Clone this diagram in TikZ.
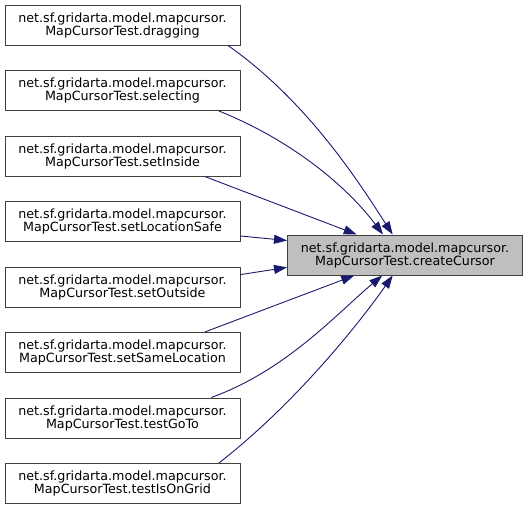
\documentclass[tikz,border=0pt]{standalone}
\usepackage{fontspec}
\setmainfont{DejaVu Sans}
\usetikzlibrary{arrows.meta}
\definecolor{boxline}{HTML}{404040}
\definecolor{callfill}{HTML}{BFBFBF}
\definecolor{edgeblue}{HTML}{191970}

\begin{document}
\begin{tikzpicture}[
    x=1pt, y=1pt,
    fn/.style={draw=boxline, fill=white, line width=1pt, minimum width=235pt,
               minimum height=40pt, inner sep=0pt, align=center,
               font=\fontsize{12.7}{13}\selectfont},
    target/.style={fn, fill=callfill},
    edge/.style={draw=edgeblue, line width=0.9pt,
                 -{Triangle[length=13pt, width=9pt]}},
  ]
  \useasboundingbox (0,0) rectangle (528,-509);

  % Callers
  \node[fn] (dragging) at (122.5, -25) {net.sf.gridarta.model.mapcursor.\\MapCursorTest.dragging};
  \node[fn] (selecting) at (122.5, -90.5) {net.sf.gridarta.model.mapcursor.\\MapCursorTest.selecting};
  \node[fn] (setinside) at (122.5, -156) {net.sf.gridarta.model.mapcursor.\\MapCursorTest.setInside};
  \node[fn] (setlocsafe) at (122.5, -221.5) {net.sf.gridarta.model.mapcursor.\\MapCursorTest.setLocationSafe};
  \node[fn] (setoutside) at (122.5, -287) {net.sf.gridarta.model.mapcursor.\\MapCursorTest.setOutside};
  \node[fn] (setsameloc) at (122.5, -352.5) {net.sf.gridarta.model.mapcursor.\\MapCursorTest.setSameLocation};
  \node[fn] (testgoto) at (122.5, -418) {net.sf.gridarta.model.mapcursor.\\MapCursorTest.testGoTo};
  \node[fn] (testongrid) at (122.5, -483.5) {net.sf.gridarta.model.mapcursor.\\MapCursorTest.testIsOnGrid};

  % Called function
  \node[target] (cursor) at (405, -255) {net.sf.gridarta.model.mapcursor.\\MapCursorTest.createCursor};

  % Call edges
  \draw[edge] (dragging.-11.8) .. controls +(-35:100) and +(123:55) .. (cursor.121);
  \draw[edge] (selecting.-12.5) .. controls +(-22:80) and +(127:60) .. (cursor.137.7);
  \draw[edge] (setinside.-14.5) -- (cursor.157.4);
  \draw[edge] (setlocsafe.-7.5) -- (cursor.173.2);
  \draw[edge] (setoutside.6.3) -- (cursor.186.3);
  \draw[edge] (setsameloc.14.8) -- (cursor.202.6);
  \draw[edge] (testgoto.13.2) .. controls +(20:80) and +(-140:60) .. (cursor.222.3);
  \draw[edge] (testongrid.12.5) .. controls +(38:100) and +(-125:55) .. (cursor.239);
\end{tikzpicture}
\end{document}
